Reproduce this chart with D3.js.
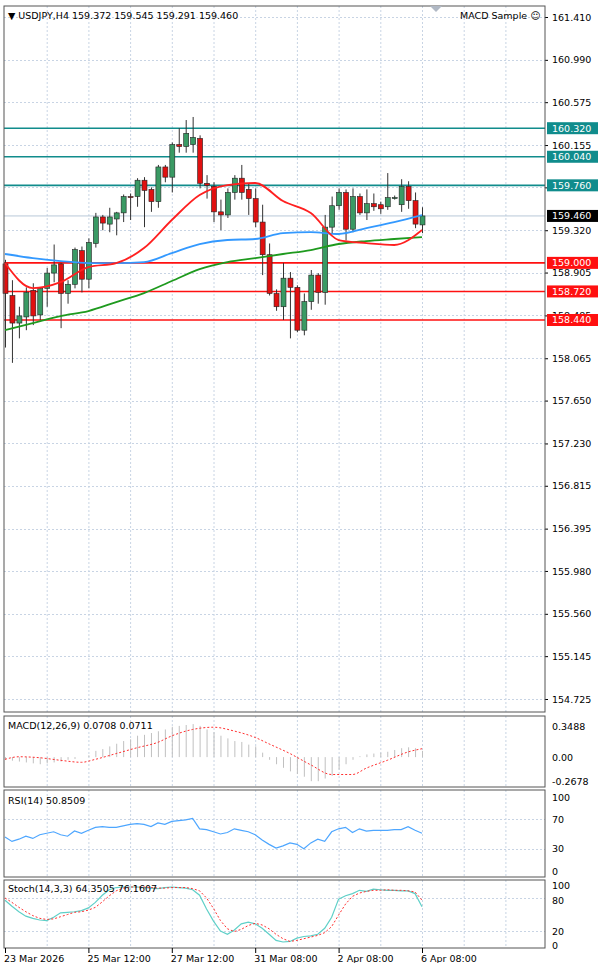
<!DOCTYPE html>
<html><head><meta charset="utf-8">
<script src="https://cdn.jsdelivr.net/npm/d3@7"></script>
<style>
body{margin:0;background:#fff;}
text{font-family:"DejaVu Sans",sans-serif;font-size:9.5px;fill:#000;}
.grid line{stroke:#c8d4e4;stroke-dasharray:2,2;}
</style></head><body>
<svg id="c" width="600" height="963"></svg>
<script>
// candles, USDJPY H4
var opens  = [158.99,158.68,158.41,158.47,158.73,158.49,158.75,158.90,158.99,158.70,158.79,159.12,158.84,159.19,159.45,159.38,159.43,159.49,159.65,159.65,159.81,159.72,159.60,159.94,159.84,160.16,160.14,160.16,160.22,159.78,159.75,159.50,159.47,159.69,159.83,159.72,159.63,159.40,159.08,158.70,158.57,158.85,158.76,158.34,158.62,158.88,158.71,159.35,159.56,159.69,159.33,159.65,159.49,159.58,159.57,159.55,159.63,159.57,159.75,159.61,159.372];
var highs  = [159.03,158.83,158.57,158.76,158.80,158.76,158.95,159.18,159.00,158.83,159.15,159.16,159.24,159.49,159.47,159.54,159.50,159.67,159.68,159.83,159.84,159.74,159.96,159.96,160.18,160.32,160.40,160.43,160.25,159.86,159.79,159.62,159.73,159.86,159.96,159.78,159.73,159.57,159.19,158.74,159.00,158.91,158.78,158.70,158.93,158.90,159.47,159.65,159.73,159.72,159.73,159.68,159.72,159.68,159.60,159.88,159.66,159.82,159.80,159.69,159.545];
var lows   = [158.17,158.02,158.26,158.34,158.39,158.44,158.57,158.81,158.36,158.60,158.75,158.71,158.75,159.15,159.32,159.30,159.27,159.40,159.42,159.55,159.35,159.50,159.54,159.79,159.69,160.08,160.08,160.08,159.73,159.63,159.40,159.32,159.44,159.62,159.62,159.47,159.35,158.88,158.68,158.53,158.44,158.26,158.32,158.29,158.54,158.60,158.59,159.29,159.52,159.22,159.30,159.47,159.42,159.51,159.48,159.52,159.62,159.50,159.53,159.34,159.291];
var closes = [158.70,158.41,158.48,158.71,158.48,158.75,158.90,158.98,158.70,158.79,159.13,158.84,159.20,159.45,159.39,159.45,159.49,159.65,159.64,159.81,159.71,159.60,159.94,159.84,160.16,160.14,160.27,160.23,159.78,159.76,159.50,159.47,159.69,159.83,159.69,159.63,159.40,159.08,158.70,158.57,158.85,158.76,158.34,158.62,158.88,158.71,159.35,159.56,159.69,159.33,159.65,159.49,159.58,159.55,159.53,159.64,159.64,159.75,159.61,159.38,159.460];

// moving averages read at every 4th bar
var maIdx   = [0,4,8,12,16,20,24,28,32,36,40,44,48,52,56,60];
var maRed   = [158.998,158.753,158.812,158.959,158.998,159.145,159.42,159.665,159.763,159.783,159.606,159.488,159.224,159.194,159.175,159.322];
var maBlue  = [159.087,159.047,159.018,158.998,158.998,159.008,159.096,159.184,159.224,159.234,159.292,159.302,159.283,159.341,159.40,159.469];
var maGreen = [158.341,158.41,158.479,158.528,158.616,158.704,158.822,158.939,159.008,159.047,159.087,159.126,159.185,159.214,159.234,159.253];

var tealLevels = [160.32,160.04,159.76];
var redLevels = [159.00,158.72,158.44];
var lastPrice = 159.460;
var priceTicks = [161.410,160.990,160.575,160.155,159.740,159.320,158.905,158.485,158.065,157.650,157.230,156.815,156.395,155.980,155.560,155.145,154.725];
var hiddenTicks = [159.740]; // covered by the 159.760 tag

var macdHist = [-0.03,-0.04,-0.05,-0.06,-0.07,-0.08,-0.07,-0.06,-0.05,-0.03,-0.02,0.00,0.02,0.07,0.09,0.12,0.15,0.18,0.20,0.24,0.25,0.27,0.29,0.31,0.34,0.35,0.36,0.37,0.35,0.31,0.28,0.24,0.21,0.18,0.17,0.14,0.12,0.05,-0.03,-0.08,-0.12,-0.16,-0.19,-0.22,-0.27,-0.27,-0.24,-0.21,-0.14,-0.08,-0.03,0.01,0.03,0.04,0.05,0.06,0.08,0.10,0.11,0.10,0.07];
var sigIdx = [0,2,5,8,11,13,16,19,22,24,27,30,33,36,38,41,44,47,50,52,55,58,60];
var macdSig = [-0.025,0.004,-0.007,-0.036,-0.058,-0.025,0.04,0.105,0.166,0.238,0.31,0.335,0.292,0.22,0.148,0.04,-0.087,-0.195,-0.195,-0.123,-0.036,0.058,0.094];

var rsi = [46,40,43,47,44,49,51,53,49,47,54,51,55,59,60,59,59,61,63,64,63,60,65,63,67,68,69,71,57,56,53,50,52,57,55,53,49,42,36,31,34,38,36,30,38,43,40,53,57,59,52,57,54,55,55,55,56,56,60,55,51];

var stochK = [76,65,55,47,43,40,39,45,53,54,55,57,62,72,85,95,99,100,100,100,99,98,97,99,100,99,98,95,85,60,38,20,14,22,33,36,33,25,14,3,0,1,7,10,11,14,25,45,78,84,88,94,92,96,95,94,94,93,93,88,64];
var stochD = [80,72,63,55,48,43,41,42,46,50,54,55,58,63,73,84,93,98,100,100,100,99,98,98,99,99,99,97,93,80,61,39,24,19,23,30,34,31,24,14,6,1,3,6,9,12,17,28,49,69,83,89,92,94,94,95,94,94,93,91,76];

var timeLabels = [[0,"23 Mar 2026"],[12,"25 Mar 12:00"],[24,"27 Mar 12:00"],[36,"31 Mar 08:00"],[48,"2 Apr 08:00"],[60,"6 Apr 08:00"]];

var svg = d3.select("#c");
var L = 4, R = 545;
var x = d3.scaleLinear().domain([0,60]).range([5,422]);
var y = d3.scaleLinear().domain([154.725,161.41]).range([699,17]);
var gridIdx = d3.range(6,78,6);

function panel(top, bottom){
  svg.append("rect").attr("x",L).attr("y",top).attr("width",R-L).attr("height",bottom-top)
    .attr("fill","none").attr("stroke","#555");
}
function vgrid(top,bottom){
  var g = svg.append("g").attr("class","grid");
  g.selectAll("line").data(gridIdx).enter().append("line")
    .attr("x1",d=>x(d)+0.5).attr("x2",d=>x(d)+0.5).attr("y1",top).attr("y2",bottom);
}
function hgrid(vals, sc){
  var g = svg.append("g").attr("class","grid");
  g.selectAll("line").data(vals).enter().append("line")
    .attr("x1",L).attr("x2",R).attr("y1",d=>Math.round(sc(d))+0.5).attr("y2",d=>Math.round(sc(d))+0.5);
}

// main panel
vgrid(6,712);
hgrid(priceTicks,y);
var ax = svg.append("g").attr("transform","translate("+R+",0)")
  .call(d3.axisRight(y).tickValues(priceTicks).tickSize(3)
    .tickFormat(d=>hiddenTicks.indexOf(d)>=0?"":d3.format(".3f")(d)));
ax.select(".domain").remove();
ax.selectAll("text").style("font-family","DejaVu Sans").style("font-size","9.5px").attr("x",7);

// current price line
svg.append("line").attr("x1",L).attr("x2",R).attr("y1",y(lastPrice)).attr("y2",y(lastPrice)).attr("stroke","#b8c8d8");

// levels
function levels(vals, col){
  svg.selectAll(null).data(vals).enter().append("line")
    .attr("x1",L).attr("x2",R).attr("y1",d=>y(d)).attr("y2",d=>y(d)).attr("stroke",col).attr("stroke-width",1.6);
}
levels(tealLevels,"#108c8c");
levels(redLevels,"#ff1010");

// candles
var idx = d3.range(opens.length);
svg.append("g").selectAll("line").data(idx).enter().append("line")
  .attr("x1",i=>x(i)+0.5).attr("x2",i=>x(i)+0.5).attr("y1",i=>y(highs[i])).attr("y2",i=>y(lows[i]))
  .attr("stroke","#333");
svg.append("g").selectAll("rect").data(idx).enter().append("rect")
  .attr("x",i=>x(i)-2).attr("width",5)
  .attr("y",i=>y(Math.max(opens[i],closes[i])))
  .attr("height",i=>Math.max(1,Math.abs(y(opens[i])-y(closes[i]))))
  .attr("fill",i=>closes[i]>=opens[i]?"#3a9a64":"#e01010")
  .attr("stroke","#222").attr("stroke-width",0.6);

// moving averages
function ma(vals,col){
  svg.append("path").datum(maIdx)
    .attr("d",d3.line().x(i=>x(i)).y((i,k)=>y(vals[k])).curve(d3.curveMonotoneX))
    .attr("fill","none").attr("stroke",col).attr("stroke-width",1.8);
}
ma(maGreen,"#1e9a1e");
ma(maBlue,"#3399ff");
ma(maRed,"#ff2020");

// level labels
function tag(v,col){
  var yy = y(v);
  svg.append("rect").attr("x",R+2).attr("y",yy-6).attr("width",51).attr("height",12).attr("fill",col);
  svg.append("text").attr("x",R+7).attr("y",yy+3.5).text(v.toFixed(3)).style("fill","#fff");
}
tealLevels.forEach(v=>tag(v,"#108c8c"));
redLevels.forEach(v=>tag(v,"#ff1010"));
tag(lastPrice,"#000");

panel(6,712);
svg.append("text").attr("x",8).attr("y",19).text("▼ USDJPY,H4  159.372 159.545 159.291 159.460");
svg.append("text").attr("x",460).attr("y",19).text("MACD Sample ☺");
svg.append("path").attr("d","M430,6 L442,6 L436,12 Z").attr("fill","#b0b8c4");

// MACD panel
var mTop=716, mBot=787;
var ym = d3.scaleLinear().domain([-0.2678,0.3488]).range([781,726]);
vgrid(mTop,mBot);
svg.append("g").selectAll("line").data(idx).enter().append("line")
  .attr("x1",i=>x(i)+0.5).attr("x2",i=>x(i)+0.5).attr("y1",ym(0))
  .attr("y2",i=>Math.max(mTop+1,Math.min(mBot-1,ym(macdHist[i])))).attr("stroke","#c0c0c0");
svg.append("path").datum(sigIdx)
  .attr("d",d3.line().x(i=>x(i)).y((i,k)=>ym(macdSig[k])).curve(d3.curveMonotoneX))
  .attr("fill","none").attr("stroke","#ff3030").attr("stroke-dasharray","2,2");
panel(mTop,mBot);
svg.append("text").attr("x",8).attr("y",729).text("MACD(12,26,9) 0.0708 0.0711");
[0.3488,0,-0.2678].forEach(v=>svg.append("text").attr("x",552).attr("y",ym(v)+3.5).text(v===0?"0.00":v.toFixed(4)));

// RSI panel
var rTop=790, rBot=877;
var yr = d3.scaleLinear().domain([0,100]).range([871,797]);
vgrid(rTop,rBot);
hgrid([70,30],yr);
svg.append("path").datum(rsi).attr("d",d3.line().x((d,i)=>x(i)).y(d=>yr(d)))
  .attr("fill","none").attr("stroke","#4da6ff").attr("stroke-width",1.2);
panel(rTop,rBot);
svg.append("text").attr("x",8).attr("y",804).text("RSI(14) 50.8509");
[100,70,30,0].forEach(v=>svg.append("text").attr("x",552).attr("y",yr(v)+3.5).text(v));

// Stoch panel
var sTop=880, sBot=948;
var ys = d3.scaleLinear().domain([0,100]).range([942,887]);
vgrid(sTop,sBot);
hgrid([80,20],ys);
svg.append("path").datum(stochK).attr("d",d3.line().x((d,i)=>x(i)).y(d=>ys(d)))
  .attr("fill","none").attr("stroke","#5fd0c8").attr("stroke-width",1.2);
svg.append("path").datum(stochD).attr("d",d3.line().x((d,i)=>x(i)).y(d=>ys(d)))
  .attr("fill","none").attr("stroke","#ff3030").attr("stroke-dasharray","2,2");
panel(sTop,sBot);
svg.append("text").attr("x",8).attr("y",892).text("Stoch(14,3,3) 64.3505 76.1607");
[[100,-2],[80,2],[20,0],[0,3]].forEach(d=>svg.append("text").attr("x",552).attr("y",ys(d[0])+3.5+d[1]).text(d[0]));

// time axis
timeLabels.forEach(function(t){
  var xx = x(t[0]);
  svg.append("line").attr("x1",xx+0.5).attr("x2",xx+0.5).attr("y1",948).attr("y2",953).attr("stroke","#000");
  svg.append("text").attr("x",t[0]===0?4:xx-1).attr("y",962).text(t[1]);
});
</script></body></html>
